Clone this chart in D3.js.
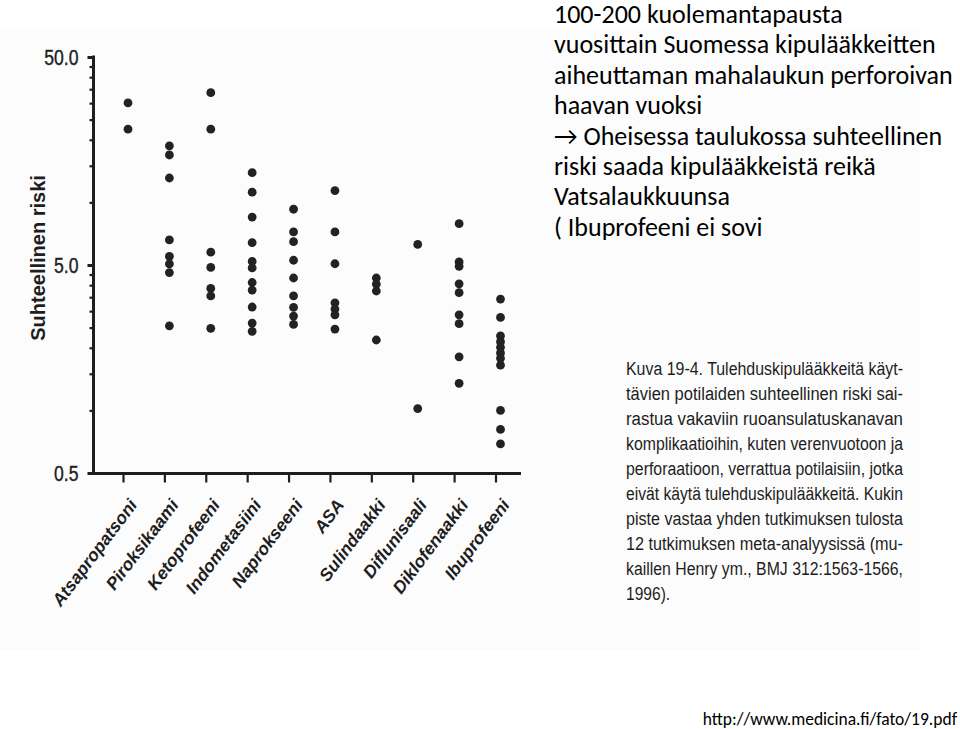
<!DOCTYPE html>
<html>
<head>
<meta charset="utf-8">
<script src="https://cdn.jsdelivr.net/npm/d3@7"></script>
<style>
  html, body { margin: 0; padding: 0; background: #ffffff; }
  svg { display: block; }
</style>
</head>
<body>
<svg id="chart" width="960" height="729"></svg>
<script>
// ---- data ----
const categories = ["Atsapropatsoni", "Piroksikaami", "Ketoprofeeni", "Indometasiini", "Naprokseeni",
                    "ASA", "Sulindaakki", "Diflunisaali", "Diklofenaakki", "Ibuprofeeni"];
const atsapropatsoni = [30.1, 22.5];
const piroksikaami  = [18.7, 16.9, 13.1, 6.6, 5.5, 5.06, 4.6, 2.55];
const ketoprofeeni  = [33.7, 22.5, 5.76, 4.87, 3.86, 3.55, 2.48];
const indometasiini = [13.9, 11.2, 8.5, 6.4, 5.2, 4.84, 4.12, 3.79, 3.14, 2.63, 2.40];
const naprokseeni   = [9.27, 7.21, 6.47, 5.27, 4.33, 3.55, 3.13, 2.84, 2.59];
const asa           = [11.4, 7.21, 5.07, 3.29, 3.07, 2.88, 2.46];
const sulindaakki   = [4.33, 4.05, 3.75, 2.18];
const diflunisaali  = [6.28, 1.02];
const diklofenaakki = [7.90, 5.17, 4.93, 4.06, 3.68, 2.88, 2.61, 1.81, 1.35];
const ibuprofeeni   = [3.43, 2.80, 2.28, 2.14, 2.01, 1.89, 1.78, 1.65, 1.00, 0.81, 0.69];
const seriesValues = [atsapropatsoni, piroksikaami, ketoprofeeni, indometasiini, naprokseeni,
                      asa, sulindaakki, diflunisaali, diklofenaakki, ibuprofeeni];

const yMajorTicks = [0.5, 5, 50];
const yMajorLabels = ["0.5", "5.0", "50.0"];
const yMinorTicks = [1, 1.5, 2, 2.5, 3, 3.5, 4, 4.5, 10, 15, 20, 25, 30, 35, 40, 45];
const yTitle = "Suhteellinen riski";

const headerLines = [
  "100-200 kuolemantapausta",
  "vuosittain Suomessa kipulääkkeitten",
  "aiheuttaman mahalaukun perforoivan",
  "haavan vuoksi",
  "\u2192 Oheisessa taulukossa suhteellinen",
  "riski saada kipulääkkeistä reikä",
  "Vatsalaukkuunsa",
  "( Ibuprofeeni ei sovi"
];
const captionLines = [
  "Kuva 19-4. Tulehduskipulääkkeitä käyt-",
  "tävien potilaiden suhteellinen riski sai-",
  "rastua vakaviin ruoansulatuskanavan",
  "komplikaatioihin, kuten verenvuotoon ja",
  "perforaatioon, verrattua potilaisiin, jotka",
  "eivät käytä tulehduskipulääkkeitä. Kukin",
  "piste vastaa yhden tutkimuksen tulosta",
  "12 tutkimuksen meta-analyysissä (mu-",
  "kaillen Henry ym., BMJ 312:1563-1566,",
  "1996)."
];
const sourceText = "http://www.medicina.fi/fato/19.pdf";

// ---- drawing ----
const svg = d3.select("#chart");
const ink = "#1e1e1e";
const sans = "'Liberation Sans', Arial, sans-serif";
const headFont = "Carlito, Lato, 'Open Sans', sans-serif";

// condense a text element horizontally (narrow-font look)
function condense(sel, f) {
  sel.each(function () {
    const w = this.getComputedTextLength();
    d3.select(this).attr("textLength", w * f).attr("lengthAdjust", "spacingAndGlyphs");
  });
}

// faint background of the pasted figure
svg.append("rect").attr("x", 0).attr("y", 28).attr("width", 920).attr("height", 622)
  .attr("fill", "#fcfcfc");

const x = d3.scalePoint().domain(categories).range([128, 500.5]);
const y = d3.scaleLog().domain([0.5, 50]).range([473, 57]);

// y axis: minor ticks
const gMinor = svg.append("g").attr("transform", "translate(93.5,0)")
  .call(d3.axisLeft(y).tickValues(yMinorTicks).tickSize(4).tickSizeOuter(0).tickFormat(""));
gMinor.select(".domain").remove();
gMinor.selectAll(".tick line").attr("stroke", ink).attr("stroke-width", 2.2);

// y axis: major ticks + labels
const gMajor = svg.append("g").attr("transform", "translate(93.5,0)")
  .call(d3.axisLeft(y).tickValues(yMajorTicks).tickSize(6).tickSizeOuter(0).tickPadding(9)
    .tickFormat((d, i) => yMajorLabels[i]));
gMajor.select(".domain").remove();
gMajor.selectAll(".tick line").attr("stroke", ink).attr("stroke-width", 3);
gMajor.selectAll(".tick text")
  .attr("font-family", sans).attr("font-size", 22).attr("fill", ink)
  .attr("stroke", ink).attr("stroke-width", 0.4)
  .attr("dy", "0.36em");
condense(gMajor.selectAll(".tick text"), 0.8);

// y axis line
svg.append("line").attr("x1", 93.5).attr("x2", 93.5).attr("y1", y(50) - 1.5).attr("y2", y(0.5) + 1.5)
  .attr("stroke", ink).attr("stroke-width", 3);

// x axis
const gx = svg.append("g").attr("transform", "translate(-5,473.5)")
  .call(d3.axisBottom(x).tickSize(9).tickSizeOuter(0).tickPadding(4).tickFormat(""));
gx.select(".domain").remove();
gx.selectAll(".tick line").attr("stroke", ink).attr("stroke-width", 2.2);
svg.append("line").attr("x1", 92).attr("x2", 521).attr("y1", 473.5).attr("y2", 473.5)
  .attr("stroke", ink).attr("stroke-width", 3);

// x labels (rotated)
svg.append("g").selectAll("text").data(categories).join("text")
  .attr("transform", d => `translate(${x(d) + 10},${505}) rotate(-53)`)
  .attr("text-anchor", "end")
  .attr("font-family", sans)
  .attr("font-weight", "bold").attr("font-style", "italic")
  .attr("font-size", 17.5).attr("fill", ink)
  .text(d => d);

// y title
svg.append("text")
  .attr("transform", `translate(45,${258}) rotate(-90)`)
  .attr("text-anchor", "middle")
  .attr("font-family", sans)
  .attr("font-weight", "bold").attr("font-size", 20).attr("fill", ink)
  .text(yTitle);

// dots
const pts = [];
categories.forEach((c, i) => seriesValues[i].forEach(v => pts.push({ c, v })));
svg.append("g").selectAll("circle").data(pts).join("circle")
  .attr("cx", d => x(d.c))
  .attr("cy", d => y(d.v))
  .attr("r", 4.4)
  .attr("fill", "#222222");

// caption (justified, narrow look via horizontal scaling of the group)
const capScale = 0.82;
const cap = svg.append("g").attr("transform", `translate(626,0) scale(${capScale},1)`)
  .attr("font-family", sans).attr("font-size", 19).attr("fill", ink);
captionLines.forEach((t, i) => {
  const el = cap.append("text").attr("x", 0).attr("y", 375 + i * 25).text(t);
  if (i < captionLines.length - 1) {
    el.attr("textLength", 277 / capScale).attr("lengthAdjust", "spacingAndGlyphs");
  }
});

// header text
const hdr = svg.append("g").attr("font-family", headFont)
  .attr("font-size", 26).attr("fill", "#000");
headerLines.forEach((t, i) => {
  hdr.append("text").attr("x", 554).attr("y", 23 + i * 30.4).text(t);
});

// source
svg.append("text").attr("x", 957).attr("y", 725).attr("text-anchor", "end")
  .attr("font-family", headFont).attr("font-size", 17.5).attr("fill", "#000")
  .text(sourceText);
</script>
</body>
</html>
